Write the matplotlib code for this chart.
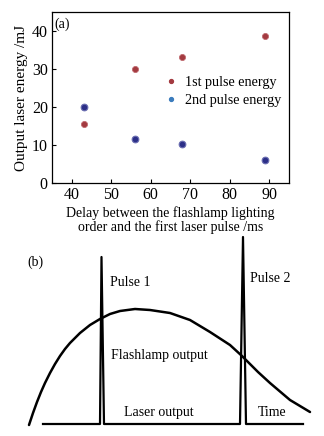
import matplotlib
matplotlib.use('Agg')
import matplotlib.pyplot as plt
from matplotlib.lines import Line2D

plt.rcParams['font.family'] = ['Liberation Serif', 'DejaVu Serif']
plt.rcParams['font.size'] = 10

# (a) energia de los pulsos frente al retardo
retardo = [43, 56, 68, 89]
energia_1 = [15.5, 30.1, 33.2, 38.8]
energia_2 = [20.0, 11.5, 10.3, 6.0]

# (b) esquema temporal (unidades arbitrarias)
t_lampara = [29, 33, 37, 41, 45, 50, 55, 60, 65, 70, 80, 90, 100, 110, 120,
             135, 150, 170, 190, 210, 230, 242, 258, 270, 290, 310]
i_lampara = [11, 23, 34, 44, 53, 63, 72, 80, 87, 93, 103, 111, 117, 122, 125,
             127, 126, 123, 116, 104, 91, 80, 64, 53, 36, 24]
t_laser = [43, 100, 101.5, 104, 240, 243, 246, 303]
i_laser = [12, 12, 179, 12, 12, 199, 12, 12]

ROJO = '#a33a40'
AZUL = '#2c2f88'

fig = plt.figure(figsize=(3.24, 4.36), dpi=100)

ax = fig.add_axes([52 / 324, 1 - 183 / 436, 237 / 324, 171 / 436])
ax.plot(retardo, energia_1, 'o', color=ROJO, ms=4.4, mec='#c06a70', mew=0.6)
ax.plot(retardo, energia_2, 'o', color=AZUL, ms=4.8, mec='#6a6db0', mew=0.8)
ax.set_xlim(35, 95)
ax.set_ylim(0, 45)
ax.set_xticks([40, 50, 60, 70, 80, 90])
ax.set_yticks([0, 10, 20, 30, 40])
ax.tick_params(direction='in', length=3, width=0.8, labelsize=11.5, pad=3)
for s in ax.spines.values():
    s.set_linewidth(0.9)
ax.set_xlabel('Delay between the flashlamp lighting\norder and the first laser pulse /ms',
              fontsize=10, labelpad=2, linespacing=1.05)
ax.set_ylabel('Output laser energy /mJ', fontsize=11, labelpad=3)
ax.text(0.01, 0.97, '(a)', transform=ax.transAxes, ha='left', va='top', fontsize=10)

marcas = [Line2D([], [], ls='', marker='o', ms=2.8, color=ROJO),
          Line2D([], [], ls='', marker='o', ms=2.8, color='#3b7cbd')]
ax.legend(marcas, ['1st pulse energy', '2nd pulse energy'], loc='upper left',
          bbox_to_anchor=(0.455, 0.665), frameon=False, fontsize=10.2,
          handlelength=0.6, handletextpad=0.7, labelspacing=0.3, borderpad=0)

# (b)
ax2 = fig.add_axes([0, 0, 1, 200 / 436])
ax2.set_xlim(0, 324)
ax2.set_ylim(0, 200)
ax2.axis('off')
ax2.plot(t_lampara, i_lampara, color='black', lw=1.8, solid_capstyle='round',
         solid_joinstyle='round')
ax2.plot(t_laser, i_laser, color='black', lw=1.6, clip_on=False)
ax2.text(27, 174, '(b)', ha='left', va='center', fontsize=10)
ax2.text(110, 154, 'Pulse 1', ha='left', va='center', fontsize=10)
ax2.text(250, 157, 'Pulse 2', ha='left', va='center', fontsize=10)
ax2.text(111, 81, 'Flashlamp output', ha='left', va='center', fontsize=10)
ax2.text(124, 24, 'Laser output', ha='left', va='center', fontsize=10)
ax2.text(258, 24, 'Time', ha='left', va='center', fontsize=10)

fig.savefig('out.png', dpi=100)
